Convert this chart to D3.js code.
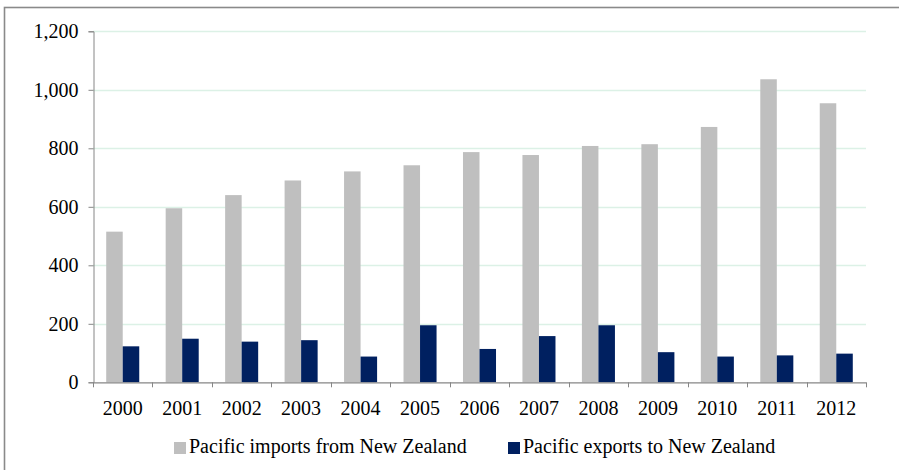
<!DOCTYPE html>
<html>
<head>
<meta charset="utf-8">
<script src="https://cdn.jsdelivr.net/npm/d3@7"></script>
<style>
  html, body { margin: 0; padding: 0; background: #fff; }
  svg { display: block; }
  svg text { font-family: 'Liberation Serif', 'DejaVu Serif', serif; fill: #000; }
</style>
</head>
<body>
<svg id="chart" width="899" height="470"></svg>
<script>
const years = ["2000","2001","2002","2003","2004","2005","2006","2007","2008","2009","2010","2011","2012"];
const importsFromNZ = [515, 595, 640, 690, 721, 742, 787, 777, 808, 814, 873, 1036, 954];
const exportsToNZ = [123, 149, 139, 144, 88, 195, 114, 158, 195, 103, 88, 92, 98];
const yTicks = [0, 200, 400, 600, 800, 1000, 1200];
const seriesNames = ["Pacific imports from New Zealand", "Pacific exports to New Zealand"];
const seriesColors = ["#bfbfbf", "#002060"];

(function () {
const FONT = "'Liberation Serif', 'DejaVu Serif', serif";
const svg = d3.select("#chart");
const pLeft = 93, pRight = 866, pTop = 31.3, pBottom = 382.3;

// outer frame
svg.append("rect").attr("x", 4.5).attr("y", 7.5).attr("width", 1000).attr("height", 1000)
  .attr("fill", "none").attr("stroke", "#8a8a8a").attr("stroke-width", 1.6);

const y = d3.scaleLinear().domain([0, 1200]).range([pBottom, pTop]);
const x = d3.scaleBand().domain(years).range([pLeft, pRight]).paddingInner(0).paddingOuter(0);
const x1 = d3.scaleBand().domain([0, 1]).range([0, x.bandwidth()]).paddingInner(0).paddingOuter(0.8);

// gridlines
svg.append("g").selectAll("line").data(yTicks.filter(d => d > 0)).join("line")
  .attr("x1", pLeft).attr("x2", pRight)
  .attr("y1", d => Math.round(y(d)) + 0.5).attr("y2", d => Math.round(y(d)) + 0.5)
  .attr("stroke", "#dcf1e6").attr("stroke-width", 1.5);

// bars
const series = [importsFromNZ, exportsToNZ];
series.forEach((vals, si) => {
  svg.append("g").selectAll("rect").data(years).join("rect")
    .attr("x", (d) => x(d) + x1(si))
    .attr("width", x1.bandwidth())
    .attr("y", (d, i) => y(vals[i]))
    .attr("height", (d, i) => y(0) - y(vals[i]))
    .attr("fill", seriesColors[si]);
});

// y axis
const yAxis = d3.axisLeft(y).tickValues(yTicks).tickSize(5).tickPadding(10)
  .tickFormat(d3.format(","));
const gy = svg.append("g").attr("transform", `translate(${pLeft + 0.5},0)`).call(yAxis);
gy.attr("font-family", null).attr("font-size", null);
gy.select(".domain").attr("stroke", "#868686");
gy.selectAll(".tick line").attr("stroke", "#868686");
gy.selectAll(".tick text").style("font-family", FONT).style("font-size", "20px").attr("fill", "#000");

// x axis
const gx = svg.append("g");
gx.append("line").attr("x1", pLeft).attr("x2", pRight).attr("y1", pBottom + 0.5).attr("y2", pBottom + 0.5)
  .attr("stroke", "#868686").attr("stroke-width", 1.3);
const bounds = years.map(d => x(d)).concat([pRight]);
gx.selectAll("line.t").data(bounds).join("line").attr("class", "t")
  .attr("x1", d => Math.round(d) + 0.5).attr("x2", d => Math.round(d) + 0.5)
  .attr("y1", pBottom).attr("y2", pBottom + 5).attr("stroke", "#868686");
gx.selectAll("text").data(years).join("text")
  .attr("x", d => x(d) + x.bandwidth() / 2).attr("y", 415)
  .attr("text-anchor", "middle").style("font-family", FONT).style("font-size", "20px").text(d => d);

// legend
const legendX = [174, 508];
const lg = svg.append("g");
seriesNames.forEach((name, i) => {
  lg.append("rect").attr("x", legendX[i]).attr("y", 442).attr("width", 12).attr("height", 12)
    .attr("fill", seriesColors[i]);
  lg.append("text").attr("x", legendX[i] + 15).attr("y", 453)
    .style("font-family", FONT).style("font-size", "20px").text(name);
});
})();
</script>
</body>
</html>
